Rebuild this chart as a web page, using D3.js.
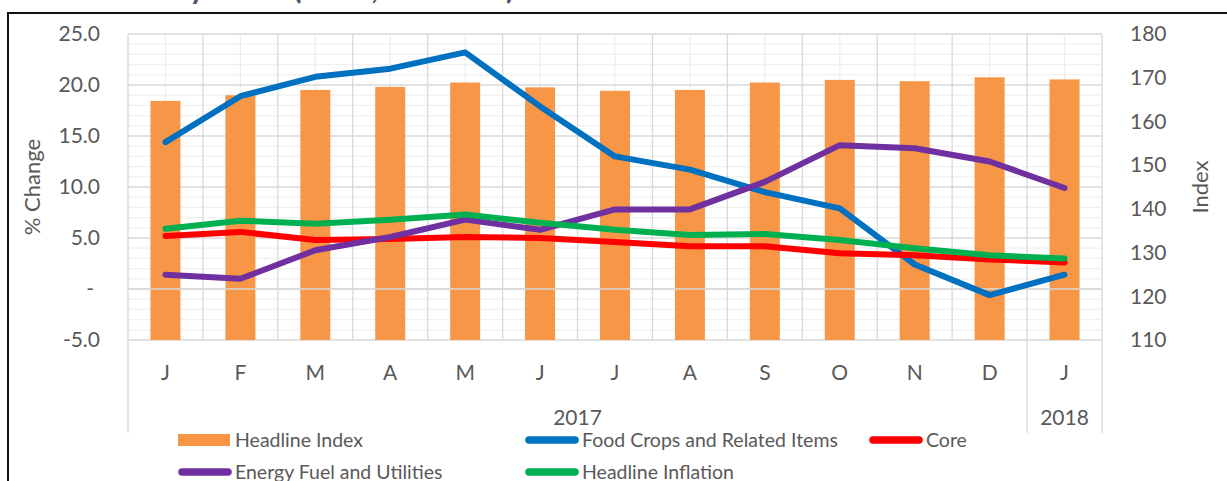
<!DOCTYPE html>
<html>
<head>
<meta charset="utf-8">
<script src="https://cdn.jsdelivr.net/npm/d3@7"></script>
<style>
  html, body { margin: 0; padding: 0; background: #fff; }
  svg { display: block; }
  text { font-family: Lato, "Open Sans", sans-serif; }
</style>
</head>
<body>
<svg id="chart" width="1227" height="481"></svg>
<script>
// ---- data ----
const titleText = "Monthly Rates (2017, Jan 2018)";
const categories = ["J","F","M","A","M","J","J","A","S","O","N","D","J"];
const yearGroups = ["2017","2018"];
const yearStart = [0, 12];
const yearEnd = [12, 13];
const headlineIndex = [164.7,166.0,167.2,167.9,168.9,167.8,167.0,167.2,168.9,169.5,169.2,170.1,169.6];
const foodCrops = [14.4,18.9,20.8,21.6,23.2,17.9,13.0,11.7,9.5,7.9,2.4,-0.6,1.4];
const core = [5.2,5.6,4.8,4.9,5.1,5.0,4.6,4.2,4.2,3.5,3.3,2.9,2.6];
const energyFuel = [1.4,1.0,3.8,5.1,6.8,5.8,7.8,7.8,10.5,14.1,13.8,12.5,9.9];
const headlineInflation = [5.9,6.7,6.4,6.8,7.3,6.5,5.8,5.3,5.4,4.8,4.0,3.3,3.0];
const leftTicks = [-5,0,5,10,15,20,25];
const rightTicks = [110,120,130,140,150,160,170,180];
const seriesNames = ["Headline Index","Food Crops and Related Items","Core","Energy Fuel and Utilities","Headline Inflation"];
const seriesColors = ["#F79646","#0070C0","#FF0000","#7030A0","#00B050"];

// ---- layout ----
const L = 128, R = 1102, T = 34, B = 340;
const svg = d3.select("#chart");

const idx = categories.map((d, i) => i);
const x = d3.scaleBand().domain(idx).range([L, R]).padding(0);
const yL = d3.scaleLinear().domain([-5, 25]).range([B, T]);
const yR = d3.scaleLinear().domain([110, 180]).range([B, T]);

// frame
svg.append("line").attr("x1", 8).attr("x2", 1227).attr("y1", 13).attr("y2", 13)
  .attr("stroke", "#111").attr("stroke-width", 2);
svg.append("line").attr("x1", 8).attr("x2", 8).attr("y1", 12).attr("y2", 481)
  .attr("stroke", "#111").attr("stroke-width", 2);

// clipped title
svg.append("text").attr("x", 92).attr("y", -1)
  .attr("font-size", 30).attr("font-weight", "bold").attr("fill", "#44546A")
  .text(titleText);

// gridlines
const g = svg.append("g");
const minor = d3.range(-5, 26, 1).filter(v => v % 5 !== 0);
g.selectAll(".hmin").data(minor).join("line")
  .attr("x1", L).attr("x2", R).attr("y1", d => yL(d)).attr("y2", d => yL(d))
  .attr("stroke", "#f0f0f0").attr("stroke-width", 1.2);
g.selectAll(".vmin").data(idx).join("line")
  .attr("x1", d => x(d) + x.bandwidth() / 2).attr("x2", d => x(d) + x.bandwidth() / 2)
  .attr("y1", T).attr("y2", B)
  .attr("stroke", "#ededed").attr("stroke-width", 1.2);
g.selectAll(".vmaj").data(d3.range(0, categories.length + 1)).join("line")
  .attr("x1", d => L + d * x.bandwidth()).attr("x2", d => L + d * x.bandwidth())
  .attr("y1", T).attr("y2", B)
  .attr("stroke", "#d9d9d9").attr("stroke-width", 1.3);
g.selectAll(".hmaj").data(leftTicks).join("line")
  .attr("x1", L).attr("x2", R).attr("y1", d => yL(d)).attr("y2", d => yL(d))
  .attr("stroke", "#d9d9d9").attr("stroke-width", 1.3);

// bars (right axis)
const bw = x.bandwidth() * 0.4;
svg.append("g").selectAll("rect").data(headlineIndex).join("rect")
  .attr("x", (d, i) => x(i) + x.bandwidth() / 2 - bw / 2)
  .attr("width", bw)
  .attr("y", d => yR(d))
  .attr("height", d => yR(110) - yR(d))
  .attr("fill", seriesColors[0]);

// zero axis line
svg.append("line").attr("x1", L).attr("x2", R).attr("y1", yL(0)).attr("y2", yL(0))
  .attr("stroke", "#d9d9d9").attr("stroke-width", 1.5);

// lines
const lineSeries = [foodCrops, core, energyFuel, headlineInflation];
const line = d3.line().x((d, i) => x(i) + x.bandwidth() / 2).y(d => yL(d));
lineSeries.forEach((s, k) => {
  svg.append("path").datum(s).attr("d", line)
    .attr("fill", "none").attr("stroke", seriesColors[k + 1])
    .attr("stroke-width", 6).attr("stroke-linejoin", "round").attr("stroke-linecap", "round");
});

// axes
const axL = svg.append("g").attr("transform", `translate(${L},0)`)
  .call(d3.axisLeft(yL).tickValues(leftTicks).tickSize(0).tickPadding(28)
    .tickFormat(d => d === 0 ? "-" : d.toFixed(1)));
axL.select(".domain").remove();
axL.selectAll("text").attr("font-size", 21).attr("fill", "#595959").attr("font-family", "Lato")
  .attr("dx", d => d === 0 ? -6 : 0);

const axR = svg.append("g").attr("transform", `translate(${R},0)`)
  .call(d3.axisRight(yR).tickValues(rightTicks).tickSize(0).tickPadding(28)
    .tickFormat(d3.format("d")));
axR.select(".domain").remove();
axR.selectAll("text").attr("font-size", 21).attr("fill", "#595959").attr("font-family", "Lato");

const axB = svg.append("g").attr("transform", `translate(0,${B})`)
  .call(d3.axisBottom(x).tickSize(0).tickFormat(i => categories[i]));
axB.select(".domain").remove();
axB.selectAll("text").attr("font-size", 21).attr("fill", "#595959").attr("font-family", "Lato")
  .attr("y", 33).attr("dy", "0.35em");

// group separators & year labels
const seps = [0, ...yearEnd];
svg.append("g").selectAll("line").data(seps).join("line")
  .attr("x1", d => d === categories.length ? R : x(d)).attr("x2", d => d === categories.length ? R : x(d))
  .attr("y1", B).attr("y2", 433)
  .attr("stroke", "#d9d9d9").attr("stroke-width", 1.3);
svg.append("g").selectAll("text").data(yearGroups).join("text")
  .attr("x", (d, i) => (L + yearStart[i] * x.bandwidth() + L + yearEnd[i] * x.bandwidth()) / 2)
  .attr("y", 418).attr("dy", "0.35em").attr("text-anchor", "middle")
  .attr("font-size", 21).attr("fill", "#595959").text(d => d);

// axis titles
svg.append("text").attr("transform", "translate(32,187) rotate(-90)")
  .attr("text-anchor", "middle").attr("dy", "0.35em")
  .attr("font-size", 22).attr("fill", "#595959").text("% Change");
svg.append("text").attr("transform", "translate(1200,187) rotate(-90)")
  .attr("text-anchor", "middle").attr("dy", "0.35em")
  .attr("font-size", 22).attr("fill", "#595959").text("Index");

// legend
const legendPos = [[178, 440], [525, 440], [869, 440], [178, 472], [525, 472]];
const lg = svg.append("g");
seriesNames.forEach((name, k) => {
  const [lx, ly] = legendPos[k];
  if (k === 0) {
    lg.append("rect").attr("x", lx).attr("y", ly - 6).attr("width", 52).attr("height", 12)
      .attr("fill", seriesColors[k]);
  } else {
    lg.append("line").attr("x1", lx + 4).attr("x2", lx + 50).attr("y1", ly).attr("y2", ly)
      .attr("stroke", seriesColors[k]).attr("stroke-width", 7.5).attr("stroke-linecap", "round");
  }
  lg.append("text").attr("x", lx + 57).attr("y", ly).attr("dy", "0.35em")
    .attr("font-size", 19.5).attr("fill", "#595959").text(name);
});
</script>
</body>
</html>
